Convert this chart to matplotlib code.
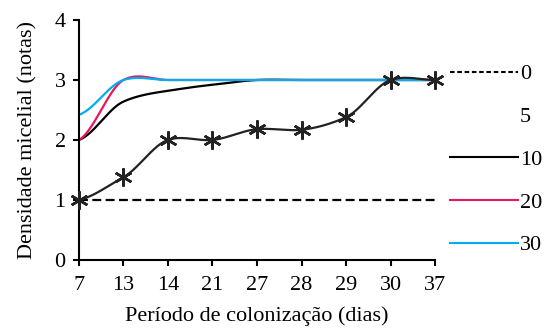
import numpy as np
import matplotlib
matplotlib.use("Agg")
import matplotlib.pyplot as plt
from matplotlib.lines import Line2D

plt.rcParams['font.family'] = ['Liberation Serif', 'DejaVu Serif']

# dados
dias = ['7', '13', '14', '21', '27', '28', '29', '30', '37']
s0 = [1, 1, 1, 1, 1, 1, 1, 1, 1]
s5 = [1.0, 1.38, 2.0, 2.0, 2.18, 2.17, 2.38, 3.0, 3.0]
s10 = [2.0, 2.64, 2.82, 2.92, 3.0, 3.0, 3.0, 3.0, 3.0]
s20 = [2.0, 3.0, 3.0, 3.0, 3.0, 3.0, 3.0, 3.0, 3.0]
s30 = [2.42, 3.0, 3.0, 3.0, 3.0, 3.0, 3.0, 3.0, 3.0]
rotulos = ['0', '5', '10', '20', '30']


def suavizar(y, n=30, k=0.8):
    # curva suavizada tipo Excel (spline cardinal)
    y = np.asarray(y, float)
    x = np.arange(len(y), dtype=float)
    px = np.concatenate([[2*x[0]-x[1]], x, [2*x[-1]-x[-2]]])
    py = np.concatenate([[y[0]], y, [y[-1]]])
    xs, ys = [], []
    t = np.linspace(0, 1, n)
    h00 = 2*t**3 - 3*t**2 + 1
    h10 = t**3 - 2*t**2 + t
    h01 = -2*t**3 + 3*t**2
    h11 = t**3 - t**2
    for i in range(1, len(px)-2):
        m1 = k*(py[i+1]-py[i-1])/2
        m2 = k*(py[i+2]-py[i])/2
        xs.append(px[i] + t)
        ys.append(h00*py[i] + h10*m1 + h01*py[i+1] + h11*m2)
    return np.concatenate(xs), np.concatenate(ys)


fig = plt.figure(figsize=(5.48, 3.34), dpi=100)
ax = fig.add_axes([0.144, 0.222, 0.65, 0.718])

x = np.arange(len(dias))
rosa = '#E8175D'
ciano = '#00AEEF'

ax.plot(x, s0, color='black', lw=1.6, dashes=(4, 2))
xs, ys = suavizar(s10)
ax.plot(xs, ys, color='black', lw=1.6)
xs, ys = suavizar(s20)
ax.plot(xs, ys, color=rosa, lw=1.6)
xs, ys = suavizar(s30)
ax.plot(xs, ys, color=ciano, lw=1.6)
xs, ys = suavizar(s5)
ax.plot(xs, ys, color='#222222', lw=1.6)
ax.plot(x, s5, ls='none', marker=(6, 2, 0), ms=13, mew=1.8, color='#222222',
        clip_on=False, zorder=5)

ax.set_xlim(0, len(dias)-1)
ax.set_ylim(0, 4)
ax.set_xticks(x)
ax.set_xticklabels(dias)
ax.set_yticks([0, 1, 2, 3, 4])
for s in ['top', 'right']:
    ax.spines[s].set_visible(False)
for s in ['left', 'bottom']:
    ax.spines[s].set_linewidth(1.5)
ax.tick_params(direction='out', length=4.5, width=1.5, labelsize=16, pad=5)
ax.tick_params(axis='x', pad=7)
ax.set_xlabel('Período de colonização (dias)', fontsize=16, labelpad=8)
ax.set_ylabel('Densidade micelial (notas)', fontsize=16, labelpad=12)

handles = [
    Line2D([0], [0], color='black', lw=1.5, dashes=(2.2, 1.3)),
    Line2D([0], [0], color='none', lw=1.5),
    Line2D([0], [0], color='black', lw=1.5),
    Line2D([0], [0], color=rosa, lw=1.5),
    Line2D([0], [0], color=ciano, lw=1.5),
]
fig.legend(handles, rotulos, loc='upper left', bbox_to_anchor=(0.821, 0.809),
           frameon=False, fontsize=16, handlelength=3.05, handletextpad=0.1,
           labelspacing=1.0, borderpad=0, borderaxespad=0)

fig.savefig('out.png', dpi=100)
